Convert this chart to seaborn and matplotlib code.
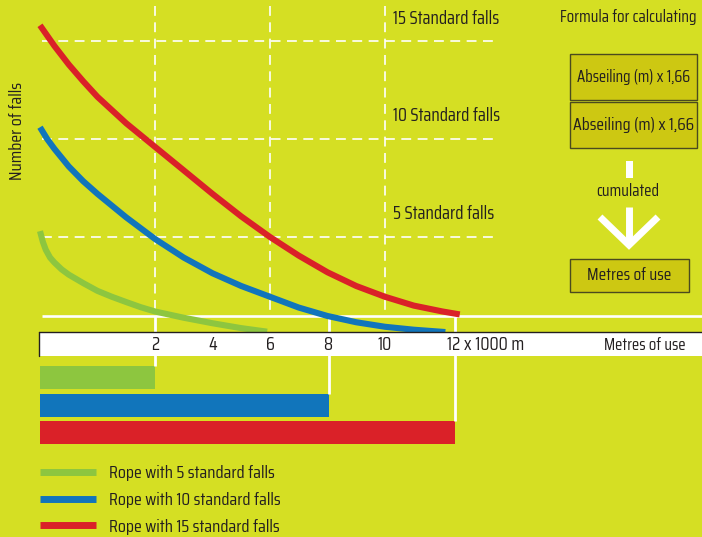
import numpy as np
import pandas as pd
import matplotlib
matplotlib.use("Agg")
import matplotlib.pyplot as plt
import matplotlib.transforms as mtransforms
from matplotlib.patches import Rectangle
from matplotlib.lines import Line2D
import seaborn as sns

# ---------------- data ----------------
rope_names = ["Rope with 5 standard falls", "Rope with 10 standard falls", "Rope with 15 standard falls"]
rope_colors = ["#8DC63F", "#1175BB", "#DA2128"]

# x in 1000 m of use, y in number of standard falls remaining
x_green = [-2, -1.9, -1.8, -1.65, -1.5, -1.25, -1, -0.5, 0, 0.5, 1, 1.5, 2, 3, 4, 5, 5.9]
y_green = [5.3, 4.75, 4.35, 3.95, 3.7, 3.35, 3.08, 2.65, 2.25, 1.95, 1.68, 1.42, 1.2, 0.88, 0.6, 0.35, 0.17]
x_blue = [-2, -1.75, -1.5, -1, -0.5, 0, 1, 2, 3, 4, 5, 6, 7, 8, 9, 10, 11, 12.1]
y_blue = [10.6, 10.0, 9.5, 8.6, 7.85, 7.2, 6.0, 4.9, 3.95, 3.15, 2.5, 1.95, 1.4, 0.97, 0.65, 0.42, 0.27, 0.15]
x_red = [-2, -1.5, -1, -0.5, 0, 1, 2, 3, 4, 5, 6, 7, 8, 9, 10, 11, 12, 12.6]
y_red = [15.8, 14.75, 13.8, 12.95, 12.15, 10.8, 9.6, 8.4, 7.2, 6.05, 5.0, 4.05, 3.2, 2.5, 1.95, 1.5, 1.2, 1.05]

bar_ends = [2.0, 8.05, 12.45]          # metres of use (x1000) per rope
standard_falls = [15, 10, 5]
falls_labels = ["15 Standard falls", "10 Standard falls", "5 Standard falls"]
grid_x = [2, 6, 10]
tick_pos = [2, 4, 6, 8, 10, 12.16]
tick_labels = ["2", "4", "6", "8", "10", "12 x 1000 m"]

# ---------------- style ----------------
BG = "#D5DF23"
TXT = "#231F20"
BOX = "#CDC812"
sns.set_theme(style="white")
plt.rcParams["font.family"] = ["Saira Condensed", "Saira SemiCondensed", "Liberation Sans", "DejaVu Sans"]

W, H = 702, 537
fig = plt.figure(figsize=(W / 100, H / 100), dpi=100)
fig.patch.set_facecolor(BG)
ax = fig.add_axes([0, 0, 1, 1])
ax.set_facecolor(BG)

# scale: pixel = 97.5 + 28.75*x ; pixel_y = 335 - 19.6*y
ax.set_xlim(-97.5 / 28.75, (W - 97.5) / 28.75)
ax.set_ylim((335 - H) / 19.6, 335 / 19.6)
ax.axis("off")

IDT = mtransforms.IdentityTransform()
PX = mtransforms.Affine2D().scale(1, -1).translate(0, H)
def px_x(p):
    return (p - 97.5) / 28.75
def px_y(p):
    return (335 - p) / 19.6

# dashed grid
dash = (0, (5.9, 3.9))
for f in standard_falls:
    ax.plot([px_x(42), px_x(493)], [f, f], color="white", lw=1.2, ls=dash, zorder=1)
for gx in grid_x:
    ax.plot([gx, gx], [px_y(6), px_y(316)], color="white", lw=1.2, ls=dash, zorder=1)

# white axis line
ax.plot([px_x(42), px_x(W + 5)], [px_y(316), px_y(316)], color="white", lw=1.9,
        solid_capstyle="butt", zorder=2)

# bars
bar_y = [px_y(377.5), px_y(405), px_y(432)]
bar_h = 23 / 19.6
start = -2.0
ax.barh(bar_y, [e - start for e in bar_ends], left=start, height=bar_h,
        color=rope_colors, edgecolor="none", zorder=2)
for e, by in zip(bar_ends, bar_y):
    ax.plot([e, e], [px_y(316), by + bar_h / 2], color="white", lw=2.0,
            solid_capstyle="butt", zorder=2)

# tick strip
strip = Rectangle((px_x(39), px_y(356)), px_x(W + 5) - px_x(39), px_y(332) - px_y(356),
                  facecolor="white", edgecolor="none", zorder=4)
ax.add_patch(strip)
ax.plot([px_x(39), px_x(W + 5)], [px_y(332), px_y(332)], color=TXT, lw=1.0, zorder=5)
ax.plot([px_x(39), px_x(39)], [px_y(332), px_y(356)], color=TXT, lw=1.0, zorder=5)
for p, lab in zip(tick_pos, tick_labels):
    ax.text(p, px_y(345), lab, ha="left" if "x" in lab else "center", va="center",
            fontsize=13.5, color=TXT, zorder=6)

# curves
df = pd.concat([
    pd.DataFrame({"x": x_green, "y": y_green, "rope": rope_names[0]}),
    pd.DataFrame({"x": x_blue, "y": y_blue, "rope": rope_names[1]}),
    pd.DataFrame({"x": x_red, "y": y_red, "rope": rope_names[2]}),
])
sns.lineplot(data=df, x="x", y="y", hue="rope", palette=dict(zip(rope_names, rope_colors)),
             sort=False, lw=4.4, ax=ax, legend=True, zorder=3,
             solid_capstyle="butt", solid_joinstyle="round")

handles = [Line2D([0], [0], color=c, lw=5, solid_capstyle="butt") for c in rope_colors]
leg = ax.legend(handles, rope_names, loc="upper left", bbox_to_anchor=(40, H - 465),
                bbox_transform=IDT, frameon=False,
                fontsize=13, handlelength=3.1, handletextpad=0.72, labelspacing=0.6,
                borderpad=0, borderaxespad=0)
for t in leg.get_texts():
    t.set_color(TXT)

# texts
fig.text(17, 131, "Number of falls", transform=PX, rotation=90, ha="center", va="center",
         fontsize=13, color=TXT)
for lab, yy in zip(falls_labels, [19, 116, 214]):
    fig.text(393, yy, lab, transform=PX, ha="left", va="center", fontsize=13.3, color=TXT)
fig.text(697, 17, "Formula for calculating", transform=PX, ha="right", va="center",
         fontsize=12.2, color=TXT)
fig.text(686, 345, "Metres of use", transform=PX, ha="right", va="center",
         fontsize=12.2, color=TXT, zorder=7)

# formula boxes
for (x0, y0, x1, y1, txt, fs) in [(570, 54, 697, 100, "Abseiling (m) x 1,66", 12.0),
                                  (570, 102, 697, 148, "Abseiling (m) x 1,66", 12.8),
                                  (570, 259, 689, 292, "Metres of use", 12.5)]:
    r = Rectangle((x0, H - y1), x1 - x0, y1 - y0, transform=IDT,
                  facecolor=BOX, edgecolor="#4B4A1E", lw=1.0)
    fig.add_artist(r)
    fig.text((x0 + x1) / 2, (y0 + y1) / 2, txt, transform=PX, ha="center", va="center",
             fontsize=fs, color=TXT)

# cumulated arrow
fig.add_artist(Rectangle((626, H - 178), 7, 17, transform=IDT,
                         facecolor="white", edgecolor="none"))
fig.text(628, 191, "cumulated", transform=PX, ha="center", va="center", fontsize=12.2, color=TXT)
fig.add_artist(Line2D([629, 629], [H - 207, H - 243], transform=IDT,
                      color="white", lw=5, solid_capstyle="butt"))
fig.add_artist(Line2D([600, 629, 658], [H - 217, H - 245, H - 217], transform=IDT,
                      color="white", lw=5, solid_capstyle="butt", solid_joinstyle="miter"))

fig.savefig("out.png", dpi=100, facecolor=BG)
